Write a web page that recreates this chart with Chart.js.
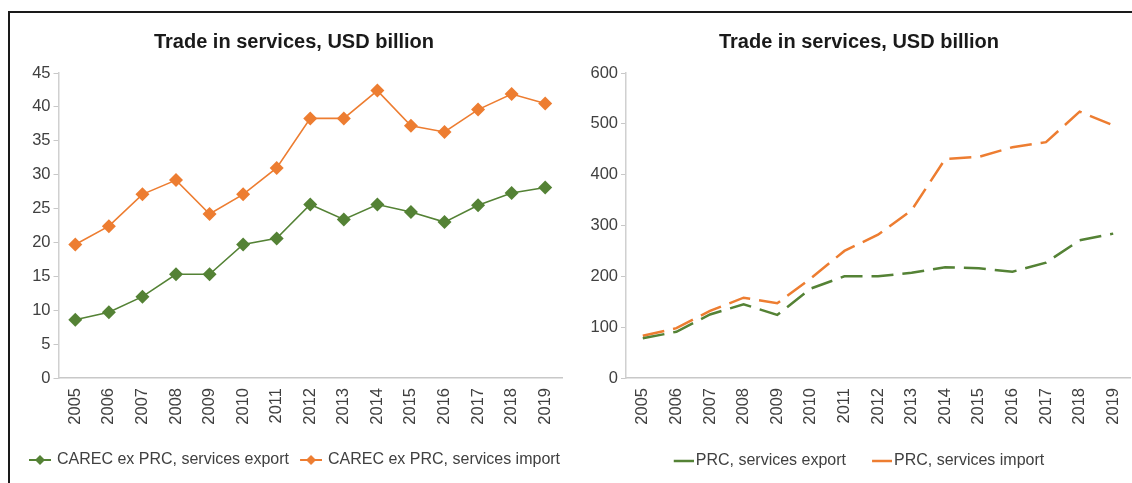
<!DOCTYPE html>
<html>
<head>
<meta charset="utf-8">
<title>Trade in services</title>
<script src="https://cdn.jsdelivr.net/npm/chart.js@4.4.1/dist/chart.umd.min.js"></script>
<style>
  html, body { margin: 0; padding: 0; background: #fff; }
  body { width: 1132px; height: 483px; position: relative; overflow: hidden; }
  .frame { position: absolute; left: 8px; top: 11px; width: 1200px; height: 600px;
           border-left: 2px solid #1a1a1a; border-top: 2px solid #1a1a1a; pointer-events: none; }
  .panel { position: absolute; top: 0; height: 483px; }
  #leftPanel { left: 0; width: 580px; }
  #rightPanel { left: 570px; width: 562px; }
</style>
</head>
<body>
<div class="panel" id="leftPanel"><canvas id="carecChart"></canvas></div>
<div class="panel" id="rightPanel"><canvas id="prcChart"></canvas></div>
<div class="frame"></div>

<script>
  // years on the x axis (both panels)
  const years = ["2005", "2006", "2007", "2008", "2009", "2010", "2011", "2012",
                 "2013", "2014", "2015", "2016", "2017", "2018", "2019"];

  // left panel: CAREC ex PRC, USD billion
  const carecExport = [8.6, 9.7, 12.0, 15.3, 15.3, 19.7, 20.6, 25.6, 23.4, 25.6, 24.5, 23.0, 25.5, 27.3, 28.1];
  const carecImport = [19.7, 22.4, 27.1, 29.2, 24.2, 27.1, 31.0, 38.3, 38.3, 42.4, 37.2, 36.3, 39.6, 41.9, 40.5];
  const carecTicks = [0, 5, 10, 15, 20, 25, 30, 35, 40, 45];

  // right panel: PRC, USD billion
  const prcExport = [78, 91, 125, 145, 124, 176, 200, 200, 207, 218, 216, 209, 227, 271, 284];
  const prcImport = [83, 98, 132, 158, 147, 196, 250, 282, 330, 431, 435, 454, 464, 524, 497];
  const prcTicks = [0, 100, 200, 300, 400, 500, 600];

  const GREEN = "#548235";
  const ORANGE = "#ED7D31";
  const FONT = "'Liberation Sans', Arial, Helvetica, sans-serif";

  Chart.defaults.font.family = FONT;
  Chart.defaults.color = "#404040";

  // legend swatch: short line (optionally with a diamond), drawn right-aligned in the image
  function swatch(color, imgW, markW, lineW, diamond) {
    const c = document.createElement("canvas");
    c.width = imgW; c.height = 14;
    const g = c.getContext("2d");
    g.strokeStyle = color; g.fillStyle = color; g.lineWidth = lineW;
    g.beginPath(); g.moveTo(imgW - markW, 7); g.lineTo(imgW, 7); g.stroke();
    if (diamond) {
      const cx = imgW - markW / 2, r = 5;
      g.beginPath();
      g.moveTo(cx, 7 - r); g.lineTo(cx + r, 7); g.lineTo(cx, 7 + r); g.lineTo(cx - r, 7);
      g.closePath(); g.fill();
    }
    return c;
  }

  function makeChart(id, cfg) {
    return new Chart(document.getElementById(id), {
      type: "line",
      data: { labels: years, datasets: cfg.datasets },
      options: {
        responsive: true,
        maintainAspectRatio: false,
        animation: false,
        layout: { padding: { left: cfg.padLeft, right: cfg.padRight, top: 0, bottom: cfg.padBottom } },
        plugins: {
          title: {
            display: true,
            text: "Trade in services, USD billion",
            color: "#1a1a1a",
            font: { size: 20, weight: "bold" },
            padding: { top: 30, bottom: 19 }
          },
          tooltip: { enabled: false },
          legend: {
            position: "bottom",
            labels: {
              usePointStyle: true,
              pointStyleWidth: cfg.boxW,
              boxHeight: 14,
              padding: cfg.legendGap,
              color: "#404040",
              font: { size: 16 },
              generateLabels: (chart) => {
                const items = Chart.defaults.plugins.legend.labels.generateLabels(chart);
                items.forEach((it, i) => { it.pointStyle = cfg.swatches[i]; });
                return items;
              }
            }
          }
        },
        scales: {
          x: {
            offset: true,
            grid: { display: false, drawTicks: false },
            border: { display: true, color: "#c8c8c8", width: 1.5 },
            ticks: { autoSkip: false, minRotation: 90, maxRotation: 90, padding: 10,
                     color: "#404040", font: { size: 16.5 } },
            afterFit: (s) => {
              s.height = cfg.xAxisH;
              s.paddingLeft = 0;
              s.paddingRight = cfg.xPadRight;
            }
          },
          y: {
            min: cfg.ticks[0],
            max: cfg.ticks[cfg.ticks.length - 1],
            afterBuildTicks: (s) => { s.ticks = cfg.ticks.map((v) => ({ value: v })); },
            grid: { display: true, drawOnChartArea: false, drawTicks: true, tickLength: 5,
                    color: "#c8c8c8", lineWidth: 1 },
            border: { display: true, color: "#d0d0d0", width: 1.5 },
            ticks: { padding: 3, color: "#404040", font: { size: 16.5 } },
            afterFit: (s) => { s.width = cfg.axisW; }
          }
        }
      }
    });
  }

  makeChart("carecChart", {
    padLeft: 8, padRight: 0, padBottom: 5, axisW: 50.5, xAxisH: 64, xPadRight: 18,
    boxW: 21, legendGap: 10,
    ticks: carecTicks,
    swatches: [swatch(GREEN, 25, 22, 2, true), swatch(ORANGE, 25, 22, 2, true)],
    datasets: [
      { label: "CAREC ex PRC, services export", data: carecExport,
        borderColor: GREEN, backgroundColor: GREEN, borderWidth: 1.6,
        pointStyle: "rectRot", pointRadius: 7, pointBorderWidth: 0 },
      { label: "CAREC ex PRC, services import", data: carecImport,
        borderColor: ORANGE, backgroundColor: ORANGE, borderWidth: 1.6,
        pointStyle: "rectRot", pointRadius: 7, pointBorderWidth: 0 }
    ]
  });

  makeChart("prcChart", {
    padLeft: 18, padRight: 2, padBottom: 4, axisW: 38, xAxisH: 49, xPadRight: 0,
    boxW: 14, legendGap: 26,
    ticks: prcTicks,
    swatches: [swatch(GREEN, 26, 20, 2.5, false), swatch(ORANGE, 26, 20, 2.5, false)],
    datasets: [
      { label: "PRC, services export", data: prcExport,
        borderColor: GREEN, backgroundColor: GREEN, borderWidth: 2.5,
        borderDash: [22, 9], pointRadius: 0 },
      { label: "PRC, services import", data: prcImport,
        borderColor: ORANGE, backgroundColor: ORANGE, borderWidth: 2.5,
        borderDash: [22, 9], pointRadius: 0 }
    ]
  });
</script>
</body>
</html>
